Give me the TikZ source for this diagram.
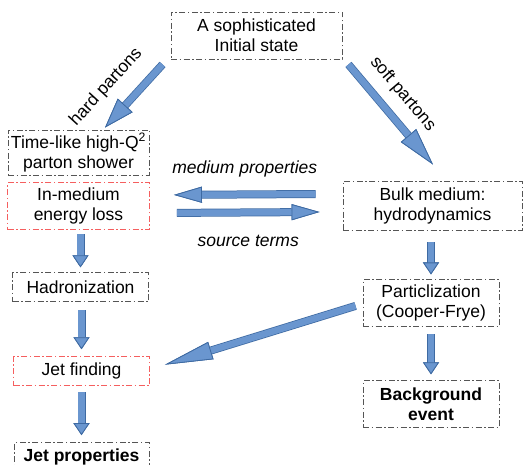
\documentclass[tikz,border=0pt]{standalone}
\usepackage{fontspec}
\setmainfont{Liberation Sans}
\usepackage{xcolor}
\usetikzlibrary{arrows.meta, positioning, calc}
\definecolor{arrowfill}{RGB}{106,150,207}
\definecolor{arrowedge}{RGB}{62,106,162}
\definecolor{framegray}{RGB}{85,85,85}
\definecolor{framered}{RGB}{245,95,95}

\begin{document}
\begin{tikzpicture}[x=1pt, y=-1pt,
  box/.style={draw=framegray, line width=0.9pt, dash pattern=on 6pt off 2.5pt on 1.5pt off 2.5pt,
    inner sep=0pt, align=center, font=\fontsize{17.5}{20}\selectfont},
  redbox/.style={box, draw=framered},
  label/.style={inner sep=1pt, font=\fontsize{17.5}{20}\selectfont\itshape},
  tilted/.style={inner sep=1pt, font=\fontsize{17.5}{20}\selectfont, sloped},
  fat/.style 2 args={draw=arrowfill, line width=6.5pt,
    -{Triangle[length=#1, width=#2, line width=0.8pt, color=arrowedge, fill=arrowfill]},
    preaction={draw=arrowedge, line width=8pt,
      -{Triangle[length=#1, width=#2, line width=0.8pt, color=arrowedge, fill=arrowfill]}}}
]
\useasboundingbox (0,0) rectangle (524,465);

% Initial state
\node[box, minimum width=171, minimum height=47] (init) at (256.5,35.5) {A sophisticated\\Initial state};

% Jet side (left)
\node[box, minimum width=141, minimum height=45] (shower) at (78.5,152.5) {Time-like high-Q\textsuperscript{2}\\parton shower};
\node[redbox, minimum width=142, minimum height=47, below=7pt of shower] (eloss) {In-medium\\energy loss};
\node[box, minimum width=136, minimum height=29, below=42pt of eloss, xshift=2pt] (hadron) {Hadronization};
\node[redbox, minimum width=136, minimum height=29, below=54pt of hadron, xshift=1pt] (jetfind) {Jet finding};
\node[box, minimum width=135, minimum height=29, below=56pt of jetfind] (jetprop) {\bfseries Jet properties};

% Medium side (right)
\node[box, minimum width=179, minimum height=49] (bulk) at (432.5,205.5) {Bulk medium:\\hydrodynamics};
\node[box, minimum width=136, minimum height=47, below=49pt of bulk, xshift=-1.5pt] (partic) {Particlization\\(Cooper-Frye)};
\node[box, minimum width=136, minimum height=47, below=53pt of partic] (backgr) {\bfseries Background\\\bfseries event};

% Splitting of the initial state
\draw[fat={30pt}{20pt}] ($(init.south west)+(-8,5)$) -- node[tilted, pos=0.64, above=14pt]{hard partons} ($(shower.north)+(26.5,-2)$);
\draw[fat={38pt}{20pt}] ($(init.south east)+(6,5)$) -- node[tilted, pos=0.44, above=10pt]{soft partons} ($(bulk.north)+(0.5,-16)$);

% Coupling jet <-> medium
\draw[fat={28pt}{16pt}] ($(bulk.west)+(-27,-11.5)$) -- node[label, above=13pt]{medium properties} ($(eloss.east)+(24,-11.5)$);
\draw[fat={28pt}{16pt}] ($(eloss.east)+(27,6.5)$) -- node[label, below=18pt]{source terms} ($(bulk.west)+(-23,6.5)$);

% Jet chain
\draw[fat={12pt}{16pt}] ($(eloss.south)+(2,4)$) -- ($(hadron.north)+(0,-5)$);
\draw[fat={12pt}{16pt}] ($(hadron.south)+(1,8)$) -- ($(jetfind.north)+(0,-7)$);
\draw[fat={12pt}{16pt}] ($(jetfind.south)+(0,6)$) -- ($(jetprop.north)+(0,-7)$);

% Medium chain
\draw[fat={12pt}{16pt}] ($(bulk.south)+(-1.5,12)$) -- ($(partic.north)+(0,-5)$);
\draw[fat={12pt}{16pt}] ($(partic.south)+(0,7)$) -- ($(backgr.north)+(0,-6)$);

% Background into jet finding
\draw[fat={48pt}{18pt}] ($(partic.west)+(-7,2.5)$) -- ($(jetfind.east)+(15,-6.5)$);
\end{tikzpicture}
\end{document}
